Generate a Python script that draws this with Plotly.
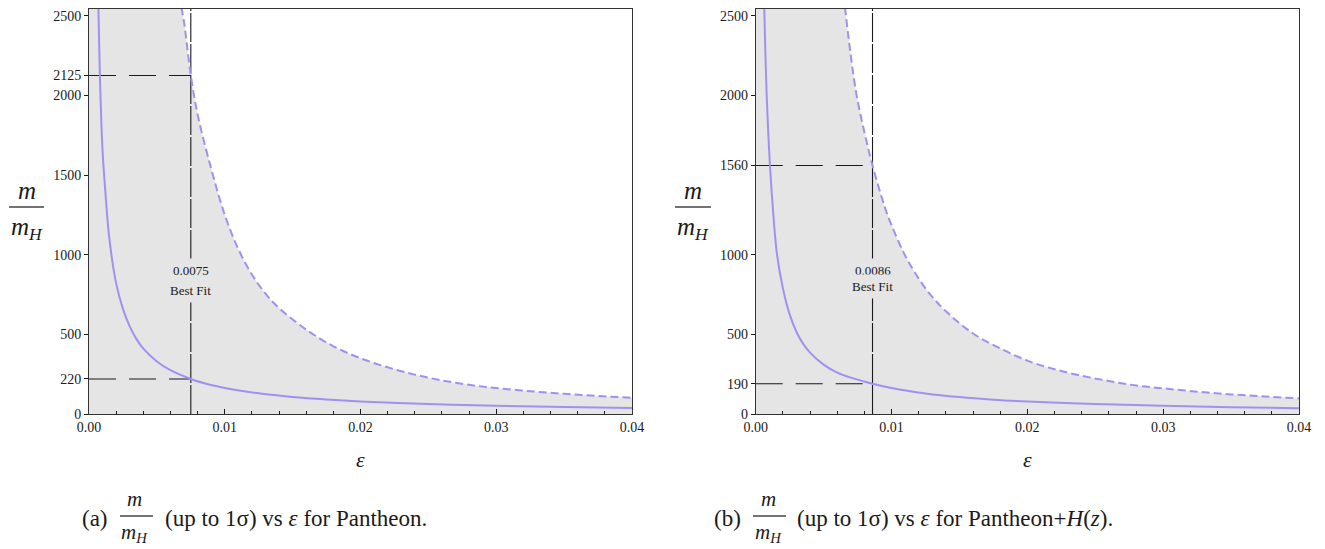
import plotly.graph_objects as go

# page body adds an 8px margin, so the figure is drawn 8px in from the window edge
OFF = 8
W, H = 1325 - OFF, 549 - OFF
Y_MAX = 2542
X_MAX = 0.04

# ---------------- Panel (a): Pantheon ----------------
eps_a_upper = [0.0068, 0.0070, 0.0075, 0.0080, 0.0090, 0.0100, 0.0110, 0.0120, 0.0130,
               0.0140, 0.0160, 0.0180, 0.0200, 0.0220, 0.0240, 0.0260, 0.0280, 0.0300,
               0.0325, 0.0350, 0.0375, 0.0400]
m_a_upper = [2555, 2460, 2125, 1880, 1540, 1250, 1035, 876, 755,
             665, 530, 425, 350, 293, 247, 211, 183, 163,
             143, 127, 113, 102]
eps_a_lower = [0.00069, 0.0008, 0.0009, 0.0010, 0.0012, 0.0015, 0.0020, 0.0025, 0.0030,
               0.0035, 0.0040, 0.0050, 0.0060, 0.0075, 0.0090, 0.0100, 0.0125, 0.0150,
               0.0175, 0.0200, 0.0250, 0.0300, 0.0350, 0.0400]
m_a_lower = [2555, 2125, 1850, 1650, 1400, 1100, 820, 660, 550,
             470, 410, 330, 275, 220, 182, 163, 130, 107,
             91, 79, 63, 52, 44, 37]
best_a = 0.0075
best_a_upper = 2125
best_a_lower = 220
yticks_a = [0, 220, 500, 1000, 1500, 2000, 2125, 2500]

# ---------------- Panel (b): Pantheon+H(z) ----------------
eps_b_upper = [0.00657, 0.0070, 0.00743, 0.0080, 0.0086, 0.0095, 0.0100, 0.0110, 0.0120,
               0.0130, 0.0140, 0.0160, 0.0180, 0.0200, 0.0220, 0.0240, 0.0260, 0.0280,
               0.0300, 0.0325, 0.0350, 0.0375, 0.0400]
m_b_upper = [2555, 2250, 2000, 1770, 1560, 1300, 1185, 995, 850,
             735, 645, 505, 412, 335, 281, 240, 207, 179,
             161, 140, 123, 110, 98]
eps_b_lower = [0.00063, 0.00081, 0.00105, 0.0013, 0.00157, 0.0020, 0.0025, 0.0030, 0.0035,
               0.0040, 0.0050, 0.0060, 0.0070, 0.0086, 0.0100, 0.0125, 0.0150, 0.0175,
               0.0200, 0.0250, 0.0300, 0.0350, 0.0400]
m_b_lower = [2555, 2000, 1560, 1250, 1000, 790, 625, 515, 440,
             385, 310, 260, 228, 190, 163, 129, 106, 90,
             79, 63, 52, 43, 36]
best_b = 0.0086
best_b_upper = 1560
best_b_lower = 190
yticks_b = [0, 190, 500, 1000, 1560, 2000, 2500]

xtick_vals = [0.0, 0.01, 0.02, 0.03, 0.04]
xtick_labels = ["0.00", "0.01", "0.02", "0.03", "0.04"]

# ---------------- style ----------------
CURVE = "rgb(158,146,240)"
FILL = "rgb(229,229,229)"
FONT = "Liberation Serif"
INK = "#1a1a1a"


def px(x):
    return min(1.0, max(0.0, (x - OFF) / W))


def py(y):
    return min(1.0, max(0.0, 1 - (y - OFF) / H))


fig = go.Figure()


def add_panel(xa, ya, eps_up, m_up, eps_lo, m_lo, best, best_up, best_lo, label_ys):
    # shaded region under the upper (dashed) curve, up to the frame top on the left
    fig.add_trace(go.Scatter(x=[0, eps_up[0]], y=[Y_MAX, Y_MAX], mode="lines",
                             line=dict(width=0), fill="tozeroy", fillcolor=FILL,
                             xaxis=xa, yaxis=ya, showlegend=False, hoverinfo="skip"))
    fig.add_trace(go.Scatter(x=eps_up, y=m_up, mode="lines", line=dict(width=0, shape="spline"),
                             fill="tozeroy", fillcolor=FILL,
                             xaxis=xa, yaxis=ya, showlegend=False, hoverinfo="skip"))
    # hide the seam between the two filled pieces
    fig.add_trace(go.Scatter(x=[eps_up[0], eps_up[0]], y=[0, Y_MAX], mode="lines",
                             line=dict(width=2, color=FILL),
                             xaxis=xa, yaxis=ya, showlegend=False, hoverinfo="skip"))
    # horizontal guide lines
    for v in (best_up, best_lo):
        fig.add_trace(go.Scatter(x=[0, best], y=[v, v], mode="lines",
                                 line=dict(color=INK, width=1.1, dash="27px,13px"),
                                 xaxis=xa, yaxis=ya, showlegend=False, hoverinfo="skip"))
    # vertical best-fit line
    fig.add_trace(go.Scatter(x=[best, best], y=[0, Y_MAX], mode="lines",
                             line=dict(color=INK, width=1.1, dash="29px,2px"),
                             xaxis=xa, yaxis=ya, showlegend=False, hoverinfo="skip"))
    # curves
    fig.add_trace(go.Scatter(x=eps_up, y=m_up, mode="lines",
                             line=dict(color=CURVE, width=2, dash="8px,4px", shape="spline"),
                             xaxis=xa, yaxis=ya, showlegend=False))
    fig.add_trace(go.Scatter(x=eps_lo, y=m_lo, mode="lines",
                             line=dict(color=CURVE, width=2, shape="spline"),
                             xaxis=xa, yaxis=ya, showlegend=False))
    # best-fit label
    for txt, yv in zip([f"{best:.4f}", "Best Fit"], label_ys):
        fig.add_annotation(x=best, y=yv, xref=xa, yref=ya, text=txt, showarrow=False,
                           font=dict(family=FONT, size=13, color=INK),
                           bgcolor=FILL, borderpad=4, xanchor="center", yanchor="middle")


add_panel("x", "y", eps_a_upper, m_a_upper, eps_a_lower, m_a_lower,
          best_a, best_a_upper, best_a_lower, [900, 774])
add_panel("x2", "y2", eps_b_upper, m_b_upper, eps_b_lower, m_b_lower,
          best_b, best_b_upper, best_b_lower, [900, 799])

tickfont = dict(family=FONT, size=14, color=INK)
xcommon = dict(range=[0, X_MAX], tickmode="array", tickvals=xtick_vals, ticktext=xtick_labels,
               ticks="inside", ticklen=5, tickwidth=1, tickcolor=INK,
               minor=dict(tickmode="linear", tick0=0, dtick=0.002, ticks="inside",
                          ticklen=3, tickwidth=1, tickcolor=INK, showgrid=False),
               showgrid=False, zeroline=False, showline=True, linecolor="#333",
               linewidth=1, mirror=True, tickfont=tickfont, automargin=False)
ycommon = dict(range=[0, Y_MAX], tickmode="array", ticks="outside", ticklen=4,
               tickwidth=1, tickcolor=INK, showgrid=False, zeroline=False,
               showline=True, linecolor="#333", linewidth=1, mirror=True,
               tickfont=tickfont, automargin=False)

ydom = [py(414), py(9)]
fig.update_layout(
    template="none",
    width=W, height=H, autosize=False,
    margin=dict(l=0, r=0, t=0, b=0, pad=0),
    paper_bgcolor="white", plot_bgcolor="white",
    font=dict(family=FONT, color=INK),
    xaxis=dict(domain=[px(89), px(632)], anchor="y", **xcommon),
    yaxis=dict(domain=ydom, anchor="x", tickvals=yticks_a, ticktext=[str(v) for v in yticks_a], **ycommon),
    xaxis2=dict(domain=[px(755.7), px(1299)], anchor="y2", **xcommon),
    yaxis2=dict(domain=ydom, anchor="x2", tickvals=yticks_b, ticktext=[str(v) for v in yticks_b], **ycommon),
)

# axis titles: epsilon and the m/m_H fraction
for xc in (360.5, 1027):
    fig.add_annotation(x=px(xc), y=py(459), xref="paper", yref="paper", text="<i>ε</i>",
                       showarrow=False, font=dict(family=FONT, size=22, color=INK),
                       xanchor="center", yanchor="middle")


def fraction(xc, y_num, y_bar, y_den, x0, x1, size):
    fig.add_annotation(x=px(xc), y=py(y_num), xref="paper", yref="paper", text="<i>m</i>",
                       showarrow=False, font=dict(family=FONT, size=size, color=INK),
                       xanchor="center", yanchor="middle")
    fig.add_shape(type="line", xref="paper", yref="paper", x0=px(x0), x1=px(x1),
                  y0=py(y_bar), y1=py(y_bar), line=dict(color="#444", width=1.3))
    fig.add_annotation(x=px(xc), y=py(y_den), xref="paper", yref="paper",
                       text="<i>m</i><sub><i>H</i></sub>",
                       showarrow=False, font=dict(family=FONT, size=size, color=INK),
                       xanchor="center", yanchor="middle")


fraction(27, 190, 207, 228, 9, 44, 25)
fraction(693, 190, 207, 228, 675, 711, 25)

# captions
CAP = 23
fig.add_annotation(x=px(95), y=py(518), xref="paper", yref="paper", text="(a)",
                   showarrow=False, font=dict(family=FONT, size=CAP, color=INK),
                   xanchor="center", yanchor="middle")
fraction(134, 499, 516, 533, 120, 153, 21)
fig.add_annotation(x=px(163), y=py(518), xref="paper", yref="paper",
                   text="(up to 1σ) vs <i>ε</i> for Pantheon.",
                   showarrow=False, font=dict(family=FONT, size=CAP, color=INK),
                   xanchor="left", yanchor="middle")

fig.add_annotation(x=px(727), y=py(518), xref="paper", yref="paper", text="(b)",
                   showarrow=False, font=dict(family=FONT, size=CAP, color=INK),
                   xanchor="center", yanchor="middle")
fraction(768, 499, 516, 533, 753, 786, 21)
fig.add_annotation(x=px(795), y=py(518), xref="paper", yref="paper",
                   text="(up to 1σ) vs <i>ε</i> for Pantheon+<i>H</i>(<i>z</i>).",
                   showarrow=False, font=dict(family=FONT, size=CAP, color=INK),
                   xanchor="left", yanchor="middle")

fig.write_html("out.html")
